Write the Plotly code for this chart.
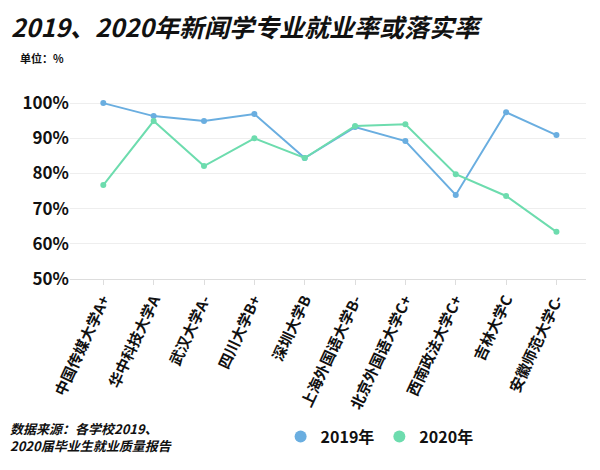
import plotly.graph_objects as go

categories = ["中国传媒大学A+", "华中科技大学A", "武汉大学A-", "四川大学B+", "深圳大学B",
              "上海外国语大学B-", "北京外国语大学C+", "西南政法大学C+", "吉林大学C", "安徽师范大学C-"]
rate_2019 = [100, 96.3, 94.9, 96.9, 84.4, 93.2, 89.2, 73.9, 97.4, 90.9]
rate_2020 = [76.7, 94.9, 82.1, 90.0, 84.4, 93.5, 94.0, 79.8, 73.6, 63.4]

blue = "#6aaee0"
green = "#6ddcae"
font = "Noto Sans CJK SC"

fig = go.Figure()
for name, vals, col in [("2019年", rate_2019, blue), ("2020年", rate_2020, green)]:
    fig.add_trace(go.Scatter(x=categories, y=vals, name=name, mode="lines+markers", showlegend=False,
                             line=dict(color=col, width=2), marker=dict(size=6, color=col)))
    fig.add_trace(go.Scatter(x=[categories[0]], y=[None], name="<b>" + name + "</b>", mode="markers",
                             marker=dict(size=12, color=col)))

fig.update_layout(
    width=600, height=470,
    margin=dict(l=62, r=22, t=74, b=199, autoexpand=False),
    plot_bgcolor="white", paper_bgcolor="white",
    font=dict(family=font, color="#111"),
    title=dict(text="<b><i>2019、2020年新闻学专业就业率或落实率</i></b>", x=0.005, xanchor="left",
               y=0.975, yanchor="top", font=dict(size=25, color="#111")),
    showlegend=True,
    legend=dict(orientation="h", x=0.6, xanchor="center", y=-0.8, yanchor="middle",
                font=dict(size=16), itemwidth=30),
    xaxis=dict(type="category", tickangle=-65, tickfont=dict(size=15, color="#111"),
               tickvals=categories, ticktext=["<b>" + c + "</b>" for c in categories],
               automargin=False, showgrid=False, showline=True, linecolor="#ddd", ticks="outside",
               tickcolor="#ddd", ticklen=5),
    yaxis=dict(range=[50, 106], tickvals=[50, 60, 70, 80, 90, 100], automargin=False,
               ticktext=["<b>50%</b>", "<b>60%</b>", "<b>70%</b>", "<b>80%</b>", "<b>90%</b>", "<b>100%</b>"],
               tickfont=dict(size=17, color="#111"), gridcolor="#eee", zeroline=False),
)
fig.add_annotation(text="<b>单位：%</b>", xref="paper", yref="paper", x=-0.1, y=1.12,
                   xanchor="left", yanchor="middle", showarrow=False, font=dict(size=11))
fig.add_annotation(text="<b><i>数据来源：各学校2019、<br>2020届毕业生就业质量报告</i></b>", xref="paper", yref="paper",
                   x=-0.12, y=-0.8, xanchor="left", yanchor="middle", align="left",
                   showarrow=False, font=dict(size=13))

fig.write_html("out.html")
